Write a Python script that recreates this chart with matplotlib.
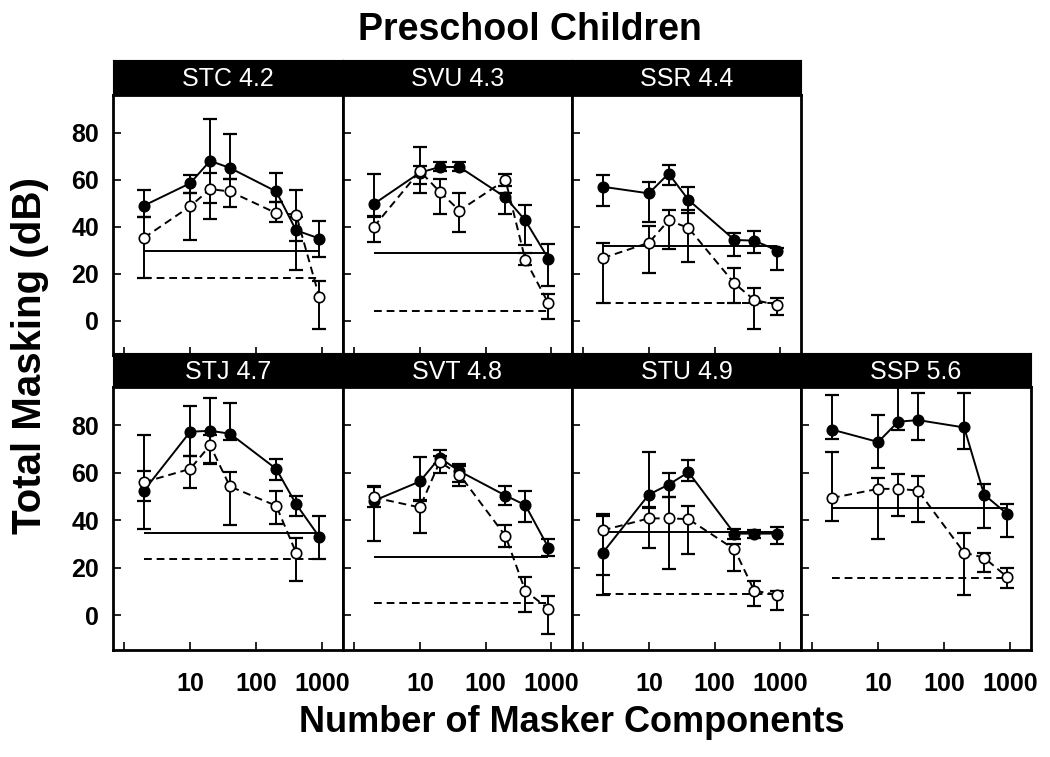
import numpy as np
import matplotlib
matplotlib.use("Agg")
import matplotlib.pyplot as plt
from matplotlib.ticker import FixedLocator, LogLocator, NullFormatter

plt.rcParams["font.family"] = ["Liberation Sans", "DejaVu Sans"]

# Data
n_components = [2, 10, 20, 40, 200, 400, 900]
panel_labels = ["STC 4.2", "SVU 4.3", "SSR 4.4", "STJ 4.7", "SVT 4.8", "STU 4.9", "SSP 5.6"]
ref_solid = [29.7, 29.0, 31.8, 34.8, 24.5, 35.1, 45.1]
ref_dashed = [18.3, 4.3, 7.8, 23.6, 5.2, 9.0, 15.8]

stc_solid = [49.0, 58.5, 68.0, 65.0, 55.0, 38.5, 35.0]
stc_solid_hi = [55.6, 62.0, 86.0, 79.3, 63.0, 44.0, 42.5]
stc_solid_lo = [44.0, 54.2, 50.0, 60.2, 50.4, 21.8, 27.0]
stc_open = [35.3, 48.7, 56.0, 55.0, 45.8, 45.2, 10.0]
stc_open_hi = [44.0, 54.2, 63.0, 60.2, 50.4, 55.7, 17.0]
stc_open_lo = [18.3, 34.4, 43.3, 48.3, 42.0, 34.0, -3.6]

svu_solid = [49.7, 63.0, 65.4, 65.4, 52.5, 42.7, 26.4]
svu_solid_hi = [62.3, 73.7, 67.5, 67.5, 54.2, 49.3, 32.5]
svu_solid_lo = [44.1, 54.2, 63.7, 63.7, 45.5, 32.3, 14.8]
svu_open = [40.0, 63.7, 54.9, 46.9, 59.9, 26.0, 7.4]
svu_open_hi = [44.4, 66.0, 60.5, 54.2, 62.3, 28.8, 11.6]
svu_open_lo = [33.7, 58.0, 45.3, 37.6, 57.4, 23.9, 0.8]

ssr_solid = [57.0, 54.2, 62.6, 51.4, 34.4, 34.1, 29.9]
ssr_solid_hi = [62.0, 59.2, 66.2, 57.1, 37.2, 38.3, 30.9]
ssr_solid_lo = [49.0, 42.0, 57.8, 46.0, 27.7, 29.0, 21.5]
ssr_open = [26.7, 33.2, 42.7, 39.5, 15.9, 8.9, 6.7]
ssr_open_hi = [33.2, 40.2, 47.2, 47.2, 22.5, 14.1, 9.9]
ssr_open_lo = [7.4, 20.4, 30.6, 24.9, 7.5, -3.4, 2.7]

stj_solid = [52.5, 77.2, 77.6, 76.4, 61.6, 46.8, 33.0]
stj_solid_hi = [60.6, 88.0, 91.3, 89.4, 65.9, 50.4, 41.9]
stj_solid_lo = [48.0, 66.9, 64.0, 73.9, 57.0, 41.9, 23.6]
stj_open = [56.0, 61.6, 71.5, 54.2, 46.1, 26.4, np.nan]
stj_open_hi = [75.7, 66.9, 75.7, 60.2, 52.2, 32.7, np.nan]
stj_open_lo = [36.2, 53.6, 63.8, 38.1, 38.6, 14.7, np.nan]

svt_solid = [48.2, 56.3, 66.3, 60.6, 50.4, 46.4, 28.5]
svt_solid_hi = [54.2, 66.6, 69.7, 63.8, 54.2, 52.2, 32.0]
svt_solid_lo = [45.4, 48.2, 63.8, 56.0, 46.5, 39.1, 25.0]
svt_open = [49.6, 45.4, 64.5, 59.2, 33.4, 10.4, 2.8]
svt_open_hi = [54.0, 48.5, 67.0, 63.0, 38.1, 16.1, 8.3]
svt_open_lo = [31.3, 34.8, 60.0, 54.6, 28.8, 1.3, -7.9]

stu_solid = [26.4, 50.8, 55.0, 60.2, 34.4, 34.4, 34.4]
stu_solid_hi = [42.6, 68.7, 59.8, 65.2, 36.2, 36.0, 37.0]
stu_solid_lo = [8.7, 45.4, 49.9, 56.4, 32.3, 32.5, 29.9]
stu_open = [35.8, 40.8, 40.8, 40.5, 27.8, 10.4, 8.7]
stu_open_hi = [42.0, 45.1, 49.9, 46.1, 29.9, 14.4, 10.4]
stu_open_lo = [16.9, 28.5, 19.7, 26.0, 18.9, 3.8, 2.4]

ssp_solid = [78.1, 72.9, 81.4, 82.1, 79.0, 50.8, 42.6]
ssp_solid_hi = [92.7, 84.2, 100.0, 93.4, 93.4, 55.3, 46.8]
ssp_solid_lo = [74.3, 62.1, 77.9, 73.9, 70.1, 36.7, 33.0]
ssp_open = [49.4, 53.2, 53.2, 52.5, 26.4, 24.3, 16.1]
ssp_open_hi = [68.7, 57.7, 59.5, 58.4, 34.8, 26.4, 20.0]
ssp_open_lo = [39.8, 32.0, 41.6, 39.1, 8.7, 18.3, 11.6]

panels = [
    (stc_solid, stc_solid_lo, stc_solid_hi, stc_open, stc_open_lo, stc_open_hi),
    (svu_solid, svu_solid_lo, svu_solid_hi, svu_open, svu_open_lo, svu_open_hi),
    (ssr_solid, ssr_solid_lo, ssr_solid_hi, ssr_open, ssr_open_lo, ssr_open_hi),
    (stj_solid, stj_solid_lo, stj_solid_hi, stj_open, stj_open_lo, stj_open_hi),
    (svt_solid, svt_solid_lo, svt_solid_hi, svt_open, svt_open_lo, svt_open_hi),
    (stu_solid, stu_solid_lo, stu_solid_hi, stu_open, stu_open_lo, stu_open_hi),
    (ssp_solid, ssp_solid_lo, ssp_solid_hi, ssp_open, ssp_open_lo, ssp_open_hi),
]

# Layout in pixels
W, H = 1050, 757
col_edges = [113, 343, 572, 801, 1031]
rows = [((60, 95), (95, 355)), ((353, 387), (387, 650))]
grid = [(0, 0), (0, 1), (0, 2), (1, 0), (1, 1), (1, 2), (1, 3)]


def box(x0, y0, x1, y1):
    return [x0 / W, 1 - y1 / H, (x1 - x0) / W, (y1 - y0) / H]


def draw_series(ax, x, y, lo, hi, filled):
    x = np.array(x, dtype=float)
    y = np.array(y, dtype=float)
    lo = np.array(lo, dtype=float)
    hi = np.array(hi, dtype=float)
    ok = ~np.isnan(y)
    x, y, lo, hi = x[ok], y[ok], lo[ok], hi[ok]
    ax.errorbar(x, y, yerr=[y - lo, hi - y], fmt="none", ecolor="black",
                elinewidth=1.4, capsize=5, capthick=1.6, zorder=3)
    ls = "-" if filled else (0, (4, 2.5))
    ax.plot(x, y, linestyle=ls, color="black", lw=1.4, zorder=4)
    ax.plot(x, y, "o", ms=7.5, mec="black", mew=1.2,
            mfc="black" if filled else "white", zorder=5)


fig = plt.figure(figsize=(10.5, 7.57), dpi=100)

for i, (r, c) in enumerate(grid):
    (by0, by1), (py0, py1) = rows[r]
    x0, x1 = col_edges[c], col_edges[c + 1]

    # black header bar
    bar = fig.add_axes(box(x0, by0, x1, by1))
    bar.set_facecolor("black")
    bar.set_xticks([])
    bar.set_yticks([])
    for s in bar.spines.values():
        s.set_color("black")
    bar.text(0.5, 0.45, panel_labels[i], color="white", fontsize=18,
             ha="center", va="center", transform=bar.transAxes)

    ax = fig.add_axes(box(x0, py0, x1, py1))
    ax.set_xscale("log")
    ax.set_xlim(0.68, 2050)
    ax.set_ylim(-14.5, 96)

    solid, solid_lo, solid_hi, opn, opn_lo, opn_hi = panels[i]
    ax.hlines(ref_solid[i], n_components[0], n_components[-1], color="black", lw=1.4, zorder=2)
    ax.hlines(ref_dashed[i], n_components[0], n_components[-1], color="black", lw=1.4,
              linestyles=(0, (4, 2.5)), zorder=2)
    draw_series(ax, n_components, solid, solid_lo, solid_hi, True)
    draw_series(ax, n_components, opn, opn_lo, opn_hi, False)

    for s in ax.spines.values():
        s.set_linewidth(2)
    ax.xaxis.set_major_locator(FixedLocator([1, 10, 100, 1000]))
    ax.xaxis.set_minor_locator(LogLocator(base=10, subs=np.arange(2, 10)))
    ax.xaxis.set_minor_formatter(NullFormatter())
    ax.set_yticks([0, 20, 40, 60, 80])
    ax.tick_params(which="major", direction="in", length=6, width=1.2,
                   labelsize=18, pad=10)
    ax.tick_params(which="minor", direction="in", length=3, width=0.8)
    ax.tick_params(axis="x", pad=16)

    if r == 1:
        ax.set_xticks([1, 10, 100, 1000], labels=["", "10", "100", "1000"])
    else:
        ax.tick_params(axis="x", labelbottom=False)
    if c != 0:
        ax.tick_params(axis="y", labelleft=False)
    for lab in ax.get_xticklabels() + ax.get_yticklabels():
        lab.set_fontweight("bold")

fig.text(530 / W, 1 - 30 / H, "Preschool Children", fontsize=27, fontweight="bold",
         ha="center", va="center")
fig.text(572 / W, 1 - 722 / H, "Number of Masker Components", fontsize=26,
         fontweight="bold", ha="center", va="center")
fig.text(30 / W, 1 - 355 / H, "Total Masking (dB)", fontsize=29, fontweight="bold",
         rotation=90, ha="center", va="center")

plt.savefig("out.png", dpi=100)
